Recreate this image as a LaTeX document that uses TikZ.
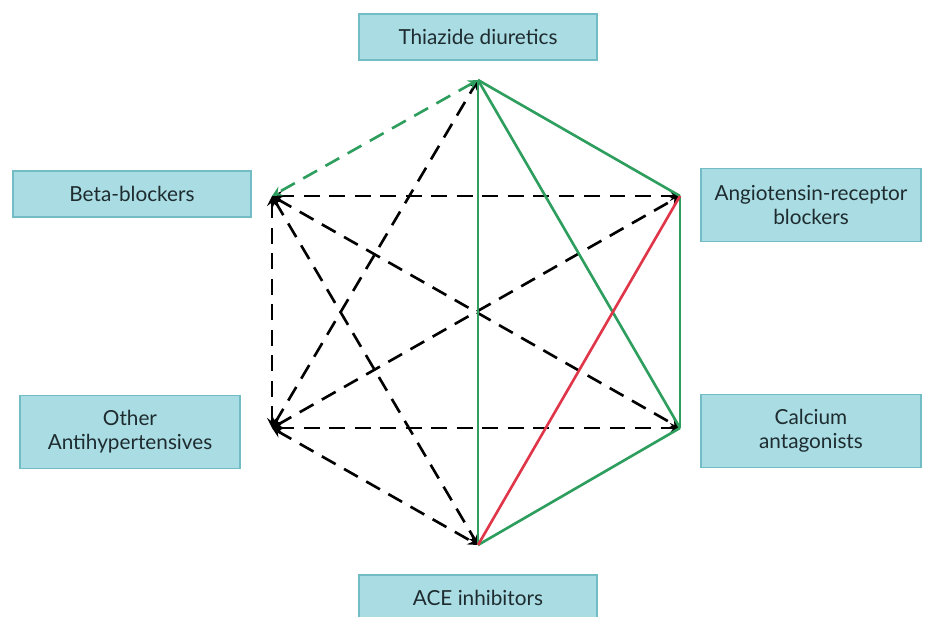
\documentclass[tikz,border=0pt]{standalone}
\usepackage{fontspec}
\setmainfont{Lato}
\usetikzlibrary{arrows}
\definecolor{BoxFill}{HTML}{A9DCE3}
\definecolor{BoxLine}{HTML}{72BCC6}
\definecolor{BoxText}{HTML}{1E2C30}
\definecolor{LinkGreen}{HTML}{2E9E5E}
\definecolor{LinkRed}{HTML}{E0364A}
\tikzset{
  drugbox/.style={draw=BoxLine,fill=BoxFill,line width=0.8pt,text=BoxText,
    align=center,font=\fontsize{11.8}{13.5}\selectfont,inner sep=0pt},
  onebox/.style={drugbox,minimum width=4.76cm,minimum height=0.92cm},
  twobox/.style={drugbox,minimum width=4.4cm,minimum height=1.46cm},
  combo/.style={line width=1.5pt},
  maybe/.style={combo,<->,dash pattern=on 9pt off 5.5pt}
}

\begin{document}
\begin{tikzpicture}[>=stealth,x=0.02cm,y=-0.02cm]
  \useasboundingbox (0,0) rectangle (926,617);
  % drug classes
  \node[onebox] (thiazide) at (478,37) {Thiazide diuretics};
  \node[onebox] (beta) at (132,194) {Beta-blockers};
  \node[twobox] (arb) at (811,205) {Angiotensin-receptor\\blockers};
  \node[twobox] (other) at (130,432) {Other\\Antihypertensives};
  \node[twobox] (calcium) at (811,431) {Calcium\\antagonists};
  \node[onebox] (ace) at (478,598) {ACE inhibitors};
  % corners of the hexagon
  \coordinate (T) at (478,80);
  \coordinate (R) at (680,196);
  \coordinate (C) at (680,428);
  \coordinate (A) at (478,545);
  \coordinate (O) at (272,428);
  \coordinate (B) at (272,196);
  % less well proven combinations
  \draw [maybe] (B) -- (R);
  \draw [maybe] (O) -- (C);
  \draw [maybe] (B) -- (O);
  \draw [maybe] (B) -- (C);
  \draw [maybe] (O) -- (R);
  \draw [maybe] (B) -- (A);
  \draw [maybe] (O) -- (A);
  \draw [maybe] (O) -- (T);
  \draw [maybe,color=LinkGreen] (T) -- (B);
  % preferred combinations
  \draw [combo,color=LinkGreen] (T) -- (R);
  \draw [combo,color=LinkGreen] (T) -- (C);
  \draw [combo,color=LinkGreen] (T) -- (A);
  \draw [combo,color=LinkGreen] (R) -- (C);
  \draw [combo,color=LinkGreen] (C) -- (A);
  \draw [combo,color=LinkRed] (R) -- (A);
\end{tikzpicture}
\end{document}
